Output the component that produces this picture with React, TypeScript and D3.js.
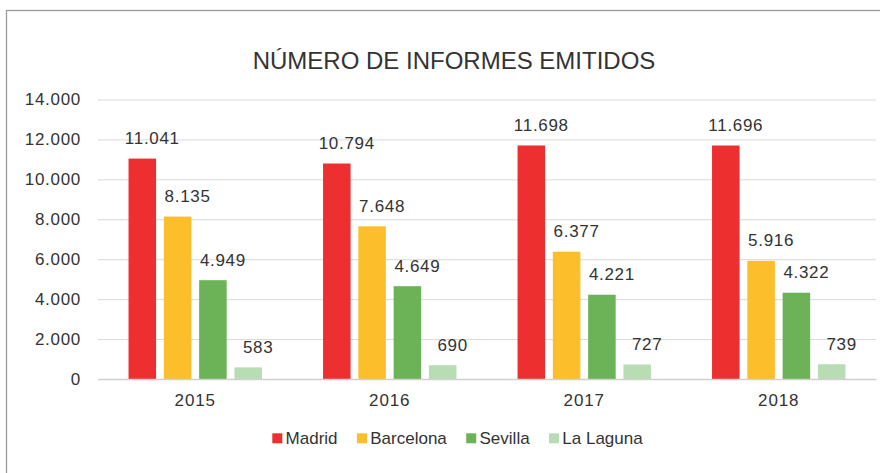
import { useEffect, useMemo, useRef } from 'react';
import * as d3 from 'd3';

// Informes emitidos por sede, 2015-2018
const years = ['2015', '2016', '2017', '2018'];
const cities = ['Madrid', 'Barcelona', 'Sevilla', 'La Laguna'];
const madrid = [11041, 10794, 11698, 11696];
const barcelona = [8135, 7648, 6377, 5916];
const sevilla = [4949, 4649, 4221, 4322];
const laLaguna = [583, 690, 727, 739];
const yTicks = [0, 2000, 4000, 6000, 8000, 10000, 12000, 14000];
const colors = ['#EE2F2F', '#FDBE2C', '#6CB257', '#B8DDB4'];

const WIDTH = 880;
const HEIGHT = 473;
const MARGIN = { top: 99.5, right: 4, bottom: 94, left: 98 };
const FONT = '"Liberation Sans", Arial, sans-serif';
const TEXT = '#333333';

const locale = d3.formatLocale({ decimal: ',', thousands: '.', grouping: [3], currency: ['', '€'] });
const fmt = locale.format(',');

export default function App() {
  const axisLeftRef = useRef<SVGGElement>(null);
  const axisBottomRef = useRef<SVGGElement>(null);
  const legendRef = useRef<SVGGElement>(null);

  const innerWidth = WIDTH - MARGIN.left - MARGIN.right;
  const innerHeight = HEIGHT - MARGIN.top - MARGIN.bottom;

  const series = [madrid, barcelona, sevilla, laLaguna];

  const x0 = useMemo(() => d3.scaleBand().domain(years).range([0, innerWidth]).padding(0), [innerWidth]);
  const x1 = useMemo(
    () => d3.scaleBand().domain(cities).range([0, x0.bandwidth()]).paddingInner(0.22).paddingOuter(0.865),
    [x0]
  );
  const y = useMemo(() => d3.scaleLinear().domain([0, 14000]).range([innerHeight, 0]), [innerHeight]);

  useEffect(() => {
    const gl = d3.select(axisLeftRef.current!);
    gl.call(d3.axisLeft(y).tickValues(yTicks).tickSize(-innerWidth).tickPadding(17).tickFormat((v) => fmt(v as number)));
    gl.select('.domain').remove();
    gl.selectAll('.tick line').attr('stroke', '#d9d9d9').attr('stroke-width', 1);
    gl.selectAll('.tick text')
      .attr('fill', TEXT)
      .attr('font-size', 17)
      .attr('font-family', FONT)
      .attr('letter-spacing', 0.7);

    const gb = d3.select(axisBottomRef.current!);
    gb.call(d3.axisBottom(x0).tickSize(0).tickPadding(15));
    gb.select('.domain').attr('stroke', '#d0d0d0').attr('stroke-width', 1.3);
    gb.selectAll('.tick text')
      .attr('fill', TEXT)
      .attr('font-size', 17)
      .attr('font-family', FONT)
      .attr('letter-spacing', 0.9);

    // leyenda centrada
    const lg = d3.select(legendRef.current!);
    lg.selectAll('*').remove();
    let cx = 0;
    const items = cities.map((c, i) => {
      const g = lg.append('g');
      g.append('rect').attr('width', 10).attr('height', 10).attr('y', -10).attr('fill', colors[i]);
      const t = g
        .append('text')
        .attr('x', 13.3)
        .attr('y', 1)
        .attr('fill', TEXT)
        .attr('font-size', 17)
        .attr('font-family', FONT)
        .text(c);
      const w = (t.node() as SVGTextElement).getComputedTextLength();
      g.attr('transform', `translate(${cx},0)`);
      cx += 13.3 + w + 19.4;
      return g;
    });
    const total = cx - 19.4;
    lg.attr('transform', `translate(${457.5 - total / 2},443.3)`);
    void items;
  }, [x0, y, innerWidth]);

  return (
    <svg
      width={WIDTH}
      height={HEIGHT}
      viewBox={`0 0 ${WIDTH} ${HEIGHT}`}
      style={{ position: 'absolute', left: 0, top: 0, background: '#fff' }}
    >
      <rect x={6.5} y={10.5} width={WIDTH + 10} height={HEIGHT + 10} fill="#fff" stroke="#9a9a9a" strokeWidth={1.3} />
      <text x={454} y={68.5} textAnchor="middle" fontFamily={FONT} fontSize={24} fill={TEXT}>
        NÚMERO DE INFORMES EMITIDOS
      </text>
      <g transform={`translate(${MARGIN.left},${MARGIN.top})`}>
        <g ref={axisLeftRef} />
        {years.map((yr, yi) => (
          <g key={yr} transform={`translate(${x0(yr)},0)`}>
            {cities.map((c, ci) => {
              const v = series[ci][yi];
              const bx = x1(c)!;
              return (
                <g key={c}>
                  <rect x={bx} y={y(v)} width={x1.bandwidth()} height={innerHeight - y(v)} fill={colors[ci]} />
                  <text
                    x={bx + x1.bandwidth() / 2 + 10}
                    y={y(v) - 14.5}
                    textAnchor="middle"
                    fontFamily={FONT}
                    fontSize={17}
                    letterSpacing={0.7}
                    fill={TEXT}
                  >
                    {fmt(v)}
                  </text>
                </g>
              );
            })}
          </g>
        ))}
        <g ref={axisBottomRef} transform={`translate(0,${innerHeight})`} />
      </g>
      <g ref={legendRef} />
    </svg>
  );
}
